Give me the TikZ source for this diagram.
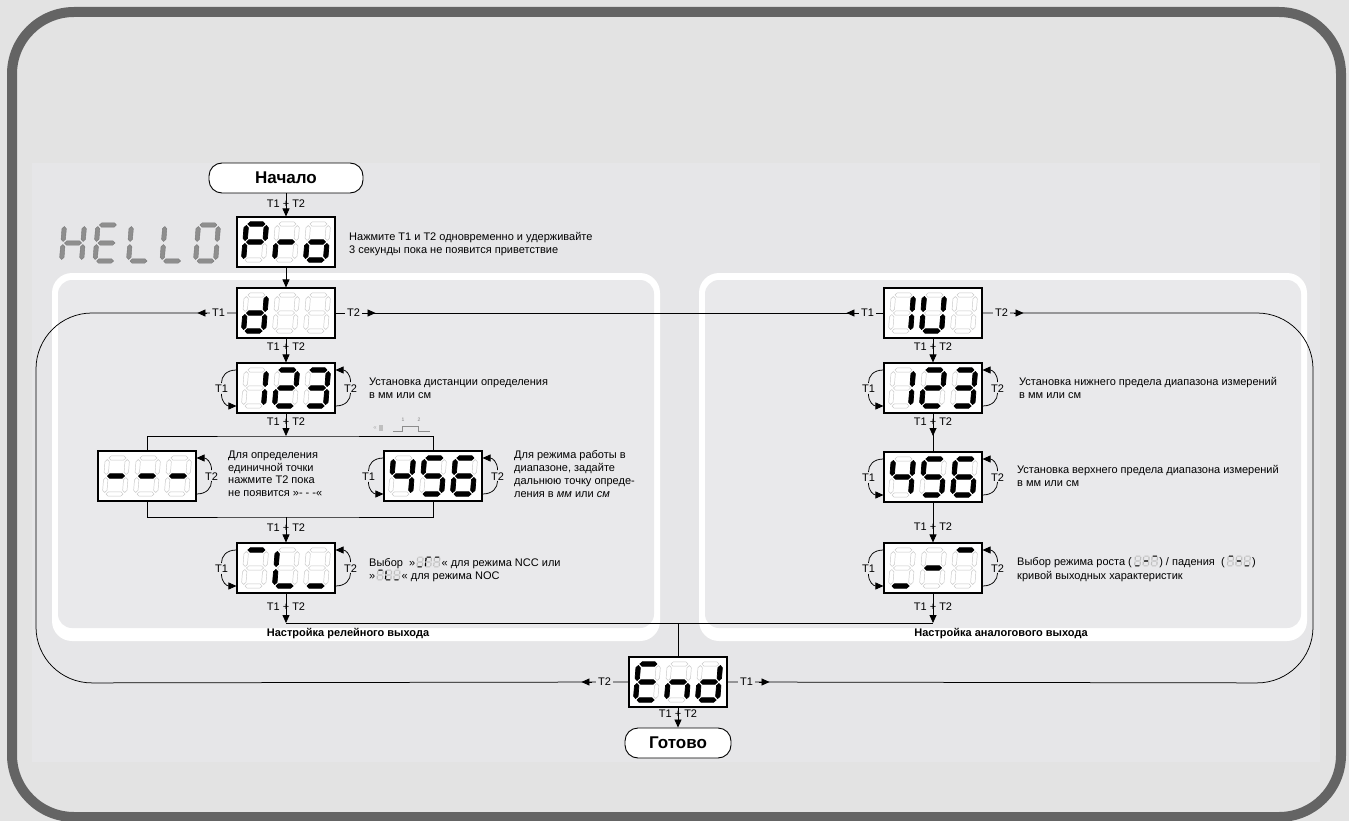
\documentclass[tikz,border=0pt]{standalone}
\usepackage{fontspec}
\setmainfont{Liberation Sans}
\usetikzlibrary{arrows.meta,calc}
\definecolor{bgc}{HTML}{E3E3E3}
\definecolor{innerc}{HTML}{E6E6E8}
\definecolor{panelc}{HTML}{E9E9EB}
\definecolor{framec}{HTML}{646464}
\definecolor{helloc}{HTML}{8E8E8E}
\tikzset{
  seg none/.style={},
  seg a/.style={insert path={(-8.5,-18)--(-6.3,-20.2)--(6.3,-20.2)--(8.5,-18)--(6.3,-15.8)--(-6.3,-15.8)--cycle}},
  seg g/.style={insert path={(-8.5,0)--(-6.3,-2.2)--(6.3,-2.2)--(8.5,0)--(6.3,2.2)--(-6.3,2.2)--cycle}},
  seg d/.style={insert path={(-8.5,18)--(-6.3,15.8)--(6.3,15.8)--(8.5,18)--(6.3,20.2)--(-6.3,20.2)--cycle}},
  seg f/.style={insert path={(-10,-16.5)--(-7.8,-14.3)--(-7.8,-3.7)--(-10,-1.5)--(-12.2,-3.7)--(-12.2,-14.3)--cycle}},
  seg e/.style={insert path={(-10,1.5)--(-7.8,3.7)--(-7.8,14.3)--(-10,16.5)--(-12.2,14.3)--(-12.2,3.7)--cycle}},
  seg b/.style={insert path={(10,-16.5)--(12.2,-14.3)--(12.2,-3.7)--(10,-1.5)--(7.8,-3.7)--(7.8,-14.3)--cycle}},
  seg c/.style={insert path={(10,1.5)--(12.2,3.7)--(12.2,14.3)--(10,16.5)--(7.8,14.3)--(7.8,3.7)--cycle}},
  segoff/.style={draw=black!22, fill=white, line width=0.45pt},
  segon/.style={draw=black, fill=black, line width=0.7pt},
  pics/dig/.style={code={
    \begin{scope}[xslant=0.08]
      \foreach \s in {a,b,c,d,e,f,g}{\path[segoff, seg \s];}
      \foreach \s in {#1}{\path[segon, seg \s];}
    \end{scope}
  }},
  pics/tri/.style n args={3}{code={
    \pic at (-31,0) {dig={#1}};
    \pic at (0,0) {dig={#2}};
    \pic at (31,0) {dig={#3}};
  }},
  mini/.style={transform shape, scale=0.27, segoff/.style={draw=none, fill=black!25}, segon/.style={draw=none, fill=black}},
  box/.style={draw=black, line width=1.1pt, fill=white, minimum width=98pt, minimum height=50pt, inner sep=0pt},
  term/.style={draw=black, line width=0.9pt, fill=white, rounded corners=13pt, minimum width=154pt, minimum height=30pt, inner sep=0pt, font=\bfseries\fontsize{17}{20}\selectfont},
  lab/.style={font=\fontsize{11}{13}\selectfont, inner sep=0pt},
  txt/.style={font=\fontsize{11}{12.8}\selectfont, align=left, anchor=north west, inner sep=0pt},
  txtb/.style={font=\fontsize{11}{12.8}\selectfont, anchor=base west, inner sep=0pt},
  conn/.style={line width=0.75pt},
  arr/.style={conn, -{Triangle[length=8pt,width=7pt]}},
}
\newcommand\loopleft[1]{%
  \draw[conn] ($(#1.west)+(0,-18)$) .. controls +(-10,0) and +(0,-7) .. ($(#1.west)+(-15,-5)$);
  \draw[arr] ($(#1.west)+(-15,6)$) .. controls +(0,8) and +(-10,0) .. ($(#1.west)+(0,18)$);
  \node[lab] (#1-tl) at ($(#1.west)+(-15,0.5)$) {T1};}
\newcommand\loopright[1]{%
  \draw[conn] ($(#1.east)+(0,18)$) .. controls +(10,0) and +(0,7) .. ($(#1.east)+(15,5)$);
  \draw[arr] ($(#1.east)+(15,-6)$) .. controls +(0,-8) and +(10,0) .. ($(#1.east)+(0,-18)$);
  \node[lab] (#1-tr) at ($(#1.east)+(15,0.5)$) {T2};}
\newcommand\miniicon[4]{%
  \begin{scope}[shift={#1}]
    \pic[mini] {tri={#2}{#3}{#4}};
  \end{scope}}
\begin{document}
\begin{tikzpicture}[x=1pt,y=-1pt]
\useasboundingbox (0,0) rectangle (1349,821);
\fill[bgc] (0,0) rectangle (1349,821);
\fill[innerc] (32,163) rectangle (1320,762);
\draw[framec, line width=10pt, rounded corners=62pt] (12,12) rectangle (1341,817);
% panels
\fill[white, rounded corners=20pt] (52,273) rectangle (660,641);
\fill[panelc, rounded corners=14pt] (58,280) rectangle (654,628);
\fill[white, rounded corners=20pt] (699,273) rectangle (1307,641);
\fill[panelc, rounded corners=14pt] (705,280) rectangle (1301,628);
\node[font=\bfseries\fontsize{11}{13}\selectfont] (lpanel) at (348,634) {Настройка релейного выхода};
\node[font=\bfseries\fontsize{11}{13}\selectfont] (rpanel) at (1001,634) {Настройка аналогового выхода};

% nodes
\node[term] (start) at (286,178) {Начало};
\node[box] (pro) at (286,242) {};
\node[box] (dsel) at (286,313) {};
\node[box] (b123) at (286,388) {};
\node[box] (dash) at (147,476) {};
\node[box] (b456) at (433,476) {};
\node[box] (tlb) at (286,568) {};
\node[box] (iu) at (933,313) {};
\node[box] (r123) at (933,388) {};
\node[box] (r456) at (933,477) {};
\node[box] (rsel) at (933,568) {};
\node[box] (endb) at (678,682) {};
\node[term, minimum width=106pt] (done) at (678,743) {Готово};

\coordinate (brT) at (286,436);
\coordinate (brB) at (286,517);
\coordinate (jl) at (286,623);
\coordinate (jr) at (933,623);
\coordinate (jm) at (678,623);
\coordinate (rmid) at (933,436);

% big loops
\draw[conn, rounded corners=56pt] (dsel.west) -- (36,313) -- (36,683) -- (endb.west);
\draw[conn, rounded corners=56pt] (iu.east) -- (1313,313) -- (1313,683) -- (endb.east);
\draw[conn] (dsel.east) -- (iu.west);
\node[lab, fill=panelc, inner xsep=2pt] (dT1) at ($(dsel.west)+(-18,0)$) {T1};
\draw[arr] ($(dsel.west)+(-29,0)$) -- ($(dsel.west)+(-39,0)$);
\node[lab, fill=panelc, inner xsep=2pt] (dT2) at ($(dsel.east)+(18,0)$) {T2};
\draw[arr] ($(dsel.east)+(30,0)$) -- ($(dsel.east)+(40,0)$);
\node[lab, fill=panelc, inner xsep=2pt] (iT1) at ($(iu.west)+(-16,0)$) {T1};
\draw[arr] ($(iu.west)+(-27,0)$) -- ($(iu.west)+(-37,0)$);
\node[lab, fill=panelc, inner xsep=2pt] (iT2) at ($(iu.east)+(19,0)$) {T2};
\draw[arr] ($(iu.east)+(31,0)$) -- ($(iu.east)+(41,0)$);
\node[lab, fill=innerc, inner xsep=2pt] (eT2) at ($(endb.west)+(-24,0)$) {T2};
\draw[arr] ($(endb.west)+(-36,0)$) -- ($(endb.west)+(-47,0)$);
\node[lab, fill=innerc, inner xsep=2pt] (eT1) at ($(endb.east)+(19,0)$) {T1};
\draw[arr] ($(endb.east)+(31,0)$) -- ($(endb.east)+(42,0)$);

% vertical flow left
\draw[arr] (start.south) -- (pro.north);
\node[lab] (l0) at (286,204) {T1 + T2};
\draw[arr] (pro.south) -- (dsel.north);
\draw[arr] (dsel.south) -- (b123.north);
\node[lab] (l1) at (286,347) {T1 + T2};
\draw[arr] (b123.south) -- (brT);
\node[lab] (l2) at (286,422) {T1 + T2};
\draw[conn] (dash.north) |- (brT) -| (b456.north);
\draw[conn] (dash.south) |- (brB) -| (b456.south);
\draw[arr] (brB) -- (tlb.north);
\node[lab] (l3) at (286,528) {T1 + T2};
\draw[arr] (tlb.south) -- (jl);
\node[lab] (l4) at (286,607) {T1 + T2};
% vertical flow right
\draw[conn] (r123.south) -- (r456.north);
\draw[arr] (r123.south) -- (rmid);
\node[lab] (r1) at (933,347) {T1 + T2};
\draw[arr] (iu.south) -- (r123.north);
\node[lab] (r2) at (933,422) {T1 + T2};
\draw[arr] (r456.south) -- (rsel.north);
\node[lab] (r3) at (933,527) {T1 + T2};
\draw[arr] (rsel.south) -- (jr);
\node[lab] (r4) at (933,607) {T1 + T2};
% join
\draw[conn] (jl) -- (jr);
\draw[conn] (jm) -- (endb.north);
\draw[arr] (endb.south) -- (done.north);
\node[lab] (l5) at (678,714) {T1 + T2};

% self loops
\loopleft{b123}\loopright{b123}
\loopright{dash}
\loopleft{b456}\loopright{b456}
\loopleft{tlb}\loopright{tlb}
\loopleft{r123}\loopright{r123}
\loopleft{r456}\loopright{r456}
\loopleft{rsel}\loopright{rsel}

% displays
\pic at (pro) {tri={a,b,e,f,g}{e,g}{c,d,e,g}};
\pic at (dsel) {tri={b,c,d,e,g}{none}{none}};
\pic at (b123) {tri={b,c}{a,b,d,e,g}{a,b,c,d,g}};
\pic at (dash) {tri={g}{g}{g}};
\pic at (b456) {tri={b,c,f,g}{a,c,d,f,g}{a,c,d,e,f,g}};
\pic at (tlb) {tri={a}{d,e,f}{d}};
\pic at (iu) {tri={b,c}{b,c,d,e,f}{none}};
\pic at (r123) {tri={b,c}{a,b,d,e,g}{a,b,c,d,g}};
\pic at (r456) {tri={b,c,f,g}{a,c,d,f,g}{a,c,d,e,f,g}};
\pic at (rsel) {tri={d}{g}{a}};
\pic at (endb) {tri={a,d,e,f,g}{c,e,g}{b,c,d,e,g}};

% HELLO
\begin{scope}[segoff/.style={draw=none, fill=none}, segon/.style={fill=helloc, draw=helloc!85!black, line width=0.4pt}]
\pic at (73,243) {dig={b,c,e,f,g}};
\pic at (106.5,243) {dig={a,d,e,f,g}};
\pic at (140,243) {dig={d,e,f}};
\pic at (173.5,243) {dig={d,e,f}};
\pic at (207,243) {dig={a,b,c,d,e,f}};
\end{scope}

% texts
\node[txt] (tpro) at (349,232.5) {Нажмите T1 и T2 одновременно и удерживайте\\3 секунды пока не появится приветствие};
\node[txt] (t123) at (369,377.5) {Установка дистанции определения\\в мм или см};
\node[txt] (tdash) at (228,450.5) {Для определения\\единичной точки\\нажмите T2 пока\\не появится »- - -«};
\node[txt] (t456) at (514,450.5) {Для режима работы в\\диапазоне, задайте\\дальнюю точку опреде-\\ления в \textit{мм} или \textit{см}};
\node[txtb] (ttl1) at (369,566) {Выбор\ \ »};
\miniicon{($(ttl1.base east)+(13,-4)$)}{d}{a,e,f}{a}
\node[txtb] (ttl1b) at ($(ttl1.base east)+(26,0)$) {« для режима NCC или};
\node[txtb] (ttl2) at (369,579) {»};
\miniicon{($(ttl2.base east)+(13,-4)$)}{a}{d,e,f}{d}
\node[txtb] (ttl2b) at ($(ttl2.base east)+(26,0)$) {« для режима NOC};
\node[txt] (tr123) at (1019,377.5) {Установка нижнего предела диапазона измерений\\в мм или см};
\node[txt] (tr456) at (1017,465.5) {Установка верхнего предела диапазона измерений\\в мм или см};
\node[txtb] (trs1) at (1017,565) {Выбор режима роста (};
\miniicon{($(trs1.base east)+(14,-4)$)}{d}{g}{a}
\node[txtb] (trs1b) at ($(trs1.base east)+(27,0)$) {) / падения\ \ (};
\miniicon{($(trs1b.base east)+(14,-4)$)}{a}{g}{d}
\node[txtb] (trs1c) at ($(trs1b.base east)+(27,0)$) {)};
\node[txtb] (trs2) at (1017,579) {кривой выходных характеристик};

% pulse icon
\draw[black!45, line width=0.5pt] (393,431) -- (402,431) -- (402,426) -- (418,426) -- (418,431) -- (430,431);
\node[font=\fontsize{5}{6}\selectfont, text=black!50, inner sep=0pt] (p1) at (403,420) {1};
\node[font=\fontsize{5}{6}\selectfont, text=black!50, inner sep=0pt] (p2) at (419,420) {2};
\node[font=\fontsize{6}{7}\selectfont, text=black!35, inner sep=0pt] (pq) at (375,428) {«};
\fill[black!25] (379,424.5) rectangle (383,431);
\end{tikzpicture}
\end{document}
